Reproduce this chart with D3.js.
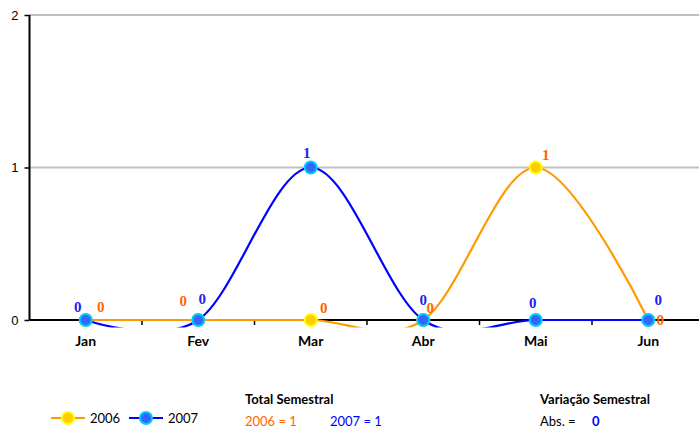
<!DOCTYPE html>
<html>
<head>
<meta charset="utf-8">
<script src="https://cdn.jsdelivr.net/npm/d3@7"></script>
<style>
  html, body { margin: 0; padding: 0; background: #fff; }
  svg { display: block; font-family: Lato, "DejaVu Sans", sans-serif; }
  text.value { font-family: "Liberation Serif", "Times New Roman", serif; font-weight: bold; }
</style>
</head>
<body>
<svg id="chart" width="699" height="428"></svg>
<script>
// Monthly counts for the first semester
const months = ["Jan", "Fev", "Mar", "Abr", "Mai", "Jun"];
const values2006 = [0, 0, 0, 0, 1, 0];
const values2007 = [0, 0, 1, 0, 0, 0];
const yTicks = [0, 1, 2];
const total2006 = 1;
const total2007 = 1;
const variationAbs = 0;

// Label nudges (px) around each marker, so overlapping labels stay readable
const labelNudge2006 = [[15, -8], [-15, -14], [13, -7], [7, -7], [10, -8], [12, 5]];
const labelNudge2007 = [[-8, -8], [4, -16], [-4, -10], [0, -15], [-3, -12], [10, -15]];

const svg = d3.select("#chart");
const plot = { left: 29.5, right: 704.5, top: 15, bottom: 320 };

const x = d3.scaleBand().domain(months).range([plot.left, plot.right]);
const xc = m => x(m) + x.bandwidth() / 2;
const y = d3.scaleLinear().domain([0, 2]).range([plot.bottom, plot.top]);

// Gridlines
svg.append("g")
  .selectAll("line")
  .data(yTicks.filter(t => t > 0))
  .join("line")
  .attr("x1", plot.left).attr("x2", 699)
  .attr("y1", d => y(d)).attr("y2", d => y(d))
  .attr("stroke", "#c0c0c0").attr("stroke-width", 2);

// Y axis
const yAxis = svg.append("g").attr("transform", `translate(${plot.left},0)`)
  .call(d3.axisLeft(y).tickValues(yTicks).tickFormat(d3.format("d")).tickSize(5).tickPadding(6));
yAxis.select(".domain").attr("stroke", "#000").attr("stroke-width", 2).attr("d", `M0,${plot.top}V${plot.bottom}`);
yAxis.selectAll(".tick line").attr("stroke", "#000").attr("stroke-width", 1.5);
yAxis.selectAll(".tick text").attr("font-size", 13).attr("fill", "#000")
  .attr("font-family", null);

// X axis: ticks at category boundaries, labels centred
const xAxisG = svg.append("g").attr("transform", `translate(0,${plot.bottom})`);
xAxisG.append("line").attr("x1", plot.left).attr("x2", 699).attr("y1", 0).attr("y2", 0)
  .attr("stroke", "#000").attr("stroke-width", 2);
xAxisG.selectAll("line.tk")
  .data(months.slice(1))
  .join("line").attr("class", "tk")
  .attr("x1", d => x(d)).attr("x2", d => x(d))
  .attr("y1", 0).attr("y2", 5)
  .attr("stroke", "#000").attr("stroke-width", 1.5);
xAxisG.selectAll("text")
  .data(months)
  .join("text")
  .attr("x", d => xc(d)).attr("y", 26)
  .attr("text-anchor", "middle")
  .attr("font-size", 14).attr("font-weight", "bold").attr("fill", "#000")
  .text(d => d);

// Clip so that smoothed dips below zero are trimmed
svg.append("clipPath").attr("id", "plotClip")
  .append("rect").attr("x", 0).attr("y", 0).attr("width", 699).attr("height", plot.bottom + 7.5);

const line = d3.line()
  .x((d, i) => xc(months[i]))
  .y(d => y(d))
  .curve(d3.curveCardinal.tension(0));

const series = [
  { name: "2006", values: values2006, line: "#ff9900", fill: "#ffcc00", ring: "#ffff00", label: "#ff6600", nudge: labelNudge2006 },
  { name: "2007", values: values2007, line: "#0000ff", fill: "#3366ff", ring: "#00ccff", label: "#2222ee", nudge: labelNudge2007 }
];

series.forEach(s => {
  const g = svg.append("g");
  g.append("path")
    .attr("d", line(s.values))
    .attr("fill", "none")
    .attr("stroke", s.line).attr("stroke-width", 2.2)
    .attr("clip-path", "url(#plotClip)");
  g.selectAll("circle")
    .data(s.values)
    .join("circle")
    .attr("cx", (d, i) => xc(months[i]))
    .attr("cy", d => y(d))
    .attr("r", 6)
    .attr("fill", s.fill).attr("stroke", s.ring).attr("stroke-width", 2);
});

// Value labels
series.forEach(s => {
  svg.append("g").selectAll("text")
    .data(s.values)
    .join("text")
    .attr("class", "value")
    .attr("x", (d, i) => xc(months[i]) + s.nudge[i][0])
    .attr("y", (d, i) => y(d) + s.nudge[i][1])
    .attr("text-anchor", "middle")
    .attr("font-size", 15)
    .attr("fill", s.label)
    .text(d => d);
});

// Legend
const legend = svg.append("g");
const legendItems = [
  { s: series[0], x: 51 },
  { s: series[1], x: 129 }
];
legendItems.forEach(it => {
  const ly = 418;
  legend.append("line").attr("x1", it.x).attr("x2", it.x + 34).attr("y1", ly).attr("y2", ly)
    .attr("stroke", it.s.line).attr("stroke-width", 2);
  legend.append("circle").attr("cx", it.x + 17).attr("cy", ly).attr("r", 6)
    .attr("fill", it.s.fill).attr("stroke", it.s.ring).attr("stroke-width", 2);
  legend.append("text").attr("x", it.x + 39).attr("y", ly + 5)
    .attr("font-size", 13).attr("fill", "#000").text(it.s.name);
});

// Semester totals
const totals = svg.append("g");
totals.append("text").attr("x", 245).attr("y", 404)
  .attr("font-size", 13).attr("font-weight", "bold").attr("fill", "#000").text("Total Semestral");
totals.append("text").attr("x", 245).attr("y", 426)
  .attr("font-size", 13).attr("fill", "#ff6600").text(`2006 = ${total2006}`);
totals.append("text").attr("x", 330).attr("y", 426)
  .attr("font-size", 13).attr("fill", "#0000ff").text(`2007 = ${total2007}`);

// Semester variation
const variation = svg.append("g");
variation.append("text").attr("x", 540).attr("y", 404)
  .attr("font-size", 13).attr("font-weight", "bold").attr("fill", "#000").text("Variação Semestral");
variation.append("text").attr("x", 540).attr("y", 426)
  .attr("font-size", 13).attr("fill", "#000").text("Abs. =");
variation.append("text").attr("x", 592).attr("y", 426)
  .attr("font-size", 13).attr("font-weight", "bold").attr("fill", "#0000ff").text(variationAbs);
</script>
</body>
</html>
